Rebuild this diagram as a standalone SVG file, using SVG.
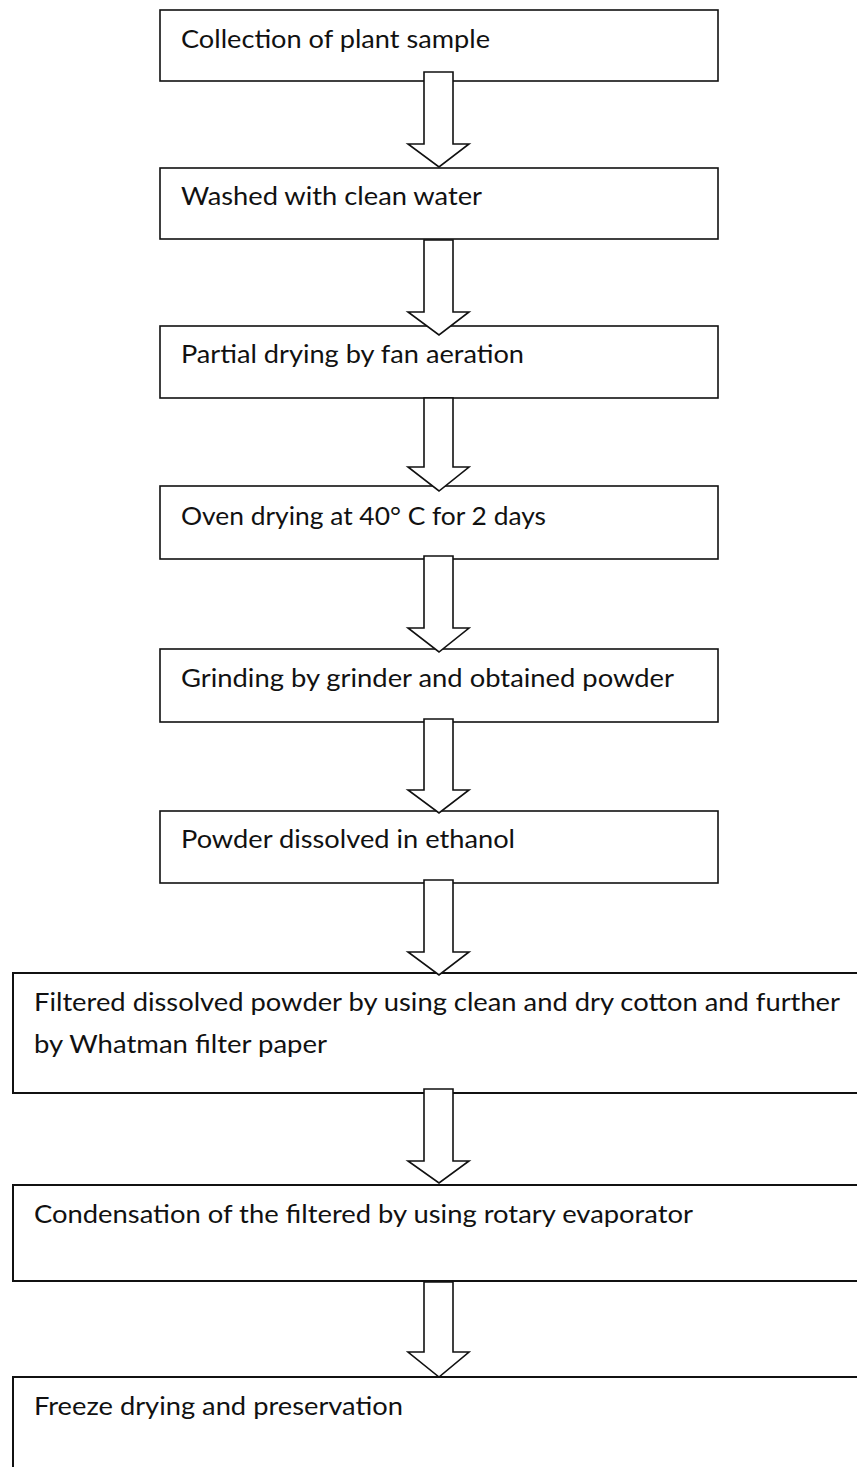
<svg xmlns="http://www.w3.org/2000/svg" width="857" height="1467" viewBox="0 0 857 1467">
<style>
.box{fill:#fff;stroke:#111;stroke-width:1.6}
.wide{fill:#fff;stroke:#111;stroke-width:2}
.lbl{font-family:Lato,"Open Sans","Liberation Sans",sans-serif;font-size:25.5px;fill:#111}
.arrow{fill:#fff;stroke:#111;stroke-width:1.6;stroke-linejoin:miter}
</style>
<rect width="857" height="1467" fill="#fff"/>
<g id="n1"><rect class="box" x="160" y="10" width="558" height="71"/><text class="lbl" x="181" y="48" textLength="309" lengthAdjust="spacingAndGlyphs">Collection of plant sample</text></g>
<g id="n2"><rect class="box" x="160" y="168" width="558" height="71"/><text class="lbl" x="181" y="205" textLength="301" lengthAdjust="spacingAndGlyphs">Washed with clean water</text></g>
<g id="n3"><rect class="box" x="160" y="326" width="558" height="72"/><text class="lbl" x="181" y="363" textLength="343" lengthAdjust="spacingAndGlyphs">Partial drying by fan aeration</text></g>
<g id="n4"><rect class="box" x="160" y="486" width="558" height="73"/><text class="lbl" x="181" y="525" textLength="365" lengthAdjust="spacingAndGlyphs">Oven drying at 40° C for 2 days</text></g>
<g id="n5"><rect class="box" x="160" y="649" width="558" height="73"/><text class="lbl" x="181" y="687" textLength="493" lengthAdjust="spacingAndGlyphs">Grinding by grinder and obtained powder</text></g>
<g id="n6"><rect class="box" x="160" y="811" width="558" height="72"/><text class="lbl" x="181" y="848" textLength="334" lengthAdjust="spacingAndGlyphs">Powder dissolved in ethanol</text></g>
<g id="n7"><rect class="wide" x="13" y="973" width="860" height="120"/><text class="lbl" x="34" y="1011" textLength="806" lengthAdjust="spacingAndGlyphs">Filtered dissolved powder by using clean and dry cotton and further</text><text class="lbl" x="34" y="1053" textLength="293" lengthAdjust="spacingAndGlyphs">by Whatman filter paper</text></g>
<g id="n8"><rect class="wide" x="13" y="1185" width="860" height="96"/><text class="lbl" x="34" y="1223" textLength="659" lengthAdjust="spacingAndGlyphs">Condensation of the filtered by using rotary evaporator</text></g>
<g id="n9"><rect class="wide" x="13" y="1377" width="860" height="110"/><text class="lbl" x="34" y="1415" textLength="369" lengthAdjust="spacingAndGlyphs">Freeze drying and preservation</text></g>
<g id="connectors">
<polygon class="arrow" points="424,72 453,72 453,144 469,144 439,167 408,144 424,144"/>
<polygon class="arrow" points="424,240 453,240 453,312 469,312 439,335 408,312 424,312"/>
<polygon class="arrow" points="424,398 453,398 453,467 469,467 439,491 408,467 424,467"/>
<polygon class="arrow" points="424,556 453,556 453,628 469,628 439,652 408,628 424,628"/>
<polygon class="arrow" points="424,719 453,719 453,790 469,790 439,813 408,790 424,790"/>
<polygon class="arrow" points="424,880 453,880 453,952 469,952 439,975 408,952 424,952"/>
<polygon class="arrow" points="424,1089 453,1089 453,1161 469,1161 439,1183 408,1161 424,1161"/>
<polygon class="arrow" points="424,1282 453,1282 453,1352 469,1352 439,1377 408,1352 424,1352"/>
</g>
</svg>
